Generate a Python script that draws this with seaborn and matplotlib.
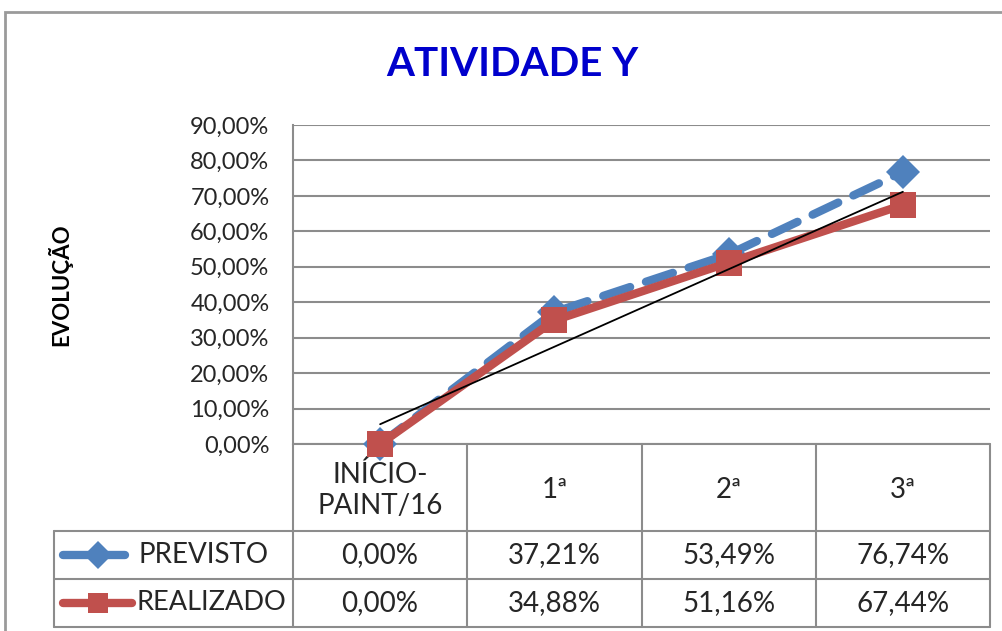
import seaborn as sns
import matplotlib.pyplot as plt
import matplotlib.transforms as mtransforms
from matplotlib.patches import Rectangle
import pandas as pd
import numpy as np

# --- data ---
categories = ["INÍCIO-\nPAINT/16", "1ª", "2ª", "3ª"]
previsto = [0.00, 37.21, 53.49, 76.74]
realizado = [0.00, 34.88, 51.16, 67.44]
y_ticks = [0, 10, 20, 30, 40, 50, 60, 70, 80, 90]

blue = "#4F81BD"
red = "#C0504D"
grid_col = "#8C8C8C"

sns.set_theme(style="white")
plt.rcParams["font.family"] = ["Lato", "DejaVu Sans"]

df = pd.DataFrame({
    "pos": list(range(len(categories))) * 2,
    "valor": previsto + realizado,
    "serie": ["PREVISTO"] * 4 + ["REALIZADO"] * 4,
})

W, H = 1003, 631
fig = plt.figure(figsize=(W / 100, H / 100), dpi=100)

# plot area in pixels: x 293..990, y 125..444
px_l, px_r, px_t, px_b = 293, 990, 125, 444
ax = fig.add_axes([px_l / W, 1 - px_b / H, (px_r - px_l) / W, (px_b - px_t) / H])

# outer chart frame
fig.patches.append(Rectangle((5 / W, -0.1), 2, (H - 12) / H + 0.1, transform=fig.transFigure,
                             fill=False, edgecolor="#9A9A9A", linewidth=2))

# series
sns.lineplot(data=df[df.serie == "PREVISTO"], x="pos", y="valor", ax=ax, color=blue,
             linewidth=6, marker="D", markersize=17, markeredgewidth=0,
             dashes=False, zorder=3)
ax.lines[-1].set_dashes([3.4, 2.0])
ax.lines[-1].set_dash_capstyle("round")
ax.lines[-1].set_clip_on(False)
sns.lineplot(data=df[df.serie == "REALIZADO"], x="pos", y="valor", ax=ax, color=red,
             linewidth=6, marker="s", markersize=19, markeredgewidth=0, zorder=4)
ax.lines[-1].set_clip_on(False)

# linear trendline of REALIZADO
xs = np.arange(len(categories))
coef = np.polyfit(xs, realizado, 1)
ax.plot(xs, np.polyval(coef, xs), color="black", linewidth=1.3, zorder=5)

ax.set_xlim(-0.5, len(categories) - 0.5)
ax.set_ylim(0, 90)
ax.set_yticks(y_ticks)
ax.set_yticklabels([f"{v:.2f}".replace(".", ",") + "%" for v in y_ticks], fontsize=17)
ax.tick_params(axis="y", length=0, pad=17)
ax.set_xticks([])
ax.set_xlabel("")
ax.set_ylabel("")
ax.yaxis.grid(True, color=grid_col, linewidth=1.5)
ax.set_axisbelow(True)
for side in ["top", "right", "bottom"]:
    ax.spines[side].set_visible(False)
ax.spines["left"].set_color(grid_col)
ax.spines["left"].set_linewidth(1.5)

fig.text(512 / W, 1 - 65 / H, "ATIVIDADE Y", ha="center", va="center",
         fontsize=29, fontweight="bold", color="#0000CC")
fig.text(60 / W, 1 - 285 / H, "EVOLUÇÃO", rotation=90, ha="center", va="center",
         fontsize=16, fontweight="bold", color="black")

# --- data table below the plot ---
tr = mtransforms.blended_transform_factory(ax.transData, ax.transAxes)
ppx = (px_r - px_l) / len(categories)   # px per category
def yfr(py):
    return (px_b - py) / (px_b - px_t)

row_y = [444, 531, 579, 627]
x_left = -0.5 - (px_l - 54) / ppx
x_right = len(categories) - 0.5
line_kw = dict(color=grid_col, linewidth=1.5, transform=tr, clip_on=False, zorder=1)

# horizontal table lines
ax.plot([-0.5, x_right], [yfr(444)] * 2, **line_kw)
for py in row_y[1:]:
    ax.plot([x_left, x_right], [yfr(py)] * 2, **line_kw)
# vertical table lines
for b in np.arange(-0.5, len(categories), 1.0):
    ax.plot([b, b], [yfr(444), yfr(627)], **line_kw)
ax.plot([x_left, x_left], [yfr(531), yfr(627)], **line_kw)

tfs = 20
for i, cat in enumerate(categories):
    ax.text(i, yfr(490), cat, transform=tr, ha="center", va="center",
            fontsize=tfs, linespacing=1.2)
for vals, py in [(previsto, 555), (realizado, 603)]:
    for i, v in enumerate(vals):
        ax.text(i, yfr(py), f"{v:.2f}".replace(".", ",") + "%", transform=tr,
                ha="center", va="center", fontsize=tfs)

# legend keys inside the table
def xd(px):
    return -0.5 + (px - px_l) / ppx

ax.plot([xd(63), xd(125)], [yfr(555)] * 2, color=blue, linewidth=6,
        solid_capstyle="round", transform=tr, clip_on=False)
ax.plot([xd(98)], [yfr(555)], marker="D", color=blue, markersize=14, markeredgewidth=0,
        transform=tr, clip_on=False)
ax.text(xd(139), yfr(555), "PREVISTO", transform=tr, ha="left", va="center", fontsize=tfs)
ax.plot([xd(63), xd(132)], [yfr(603)] * 2, color=red, linewidth=6,
        solid_capstyle="round", transform=tr, clip_on=False)
ax.plot([xd(98)], [yfr(603)], marker="s", color=red, markersize=15, markeredgewidth=0,
        transform=tr, clip_on=False)
ax.text(xd(137), yfr(603), "REALIZADO", transform=tr, ha="left", va="center", fontsize=19.5)

fig.savefig("out.png", dpi=100)
